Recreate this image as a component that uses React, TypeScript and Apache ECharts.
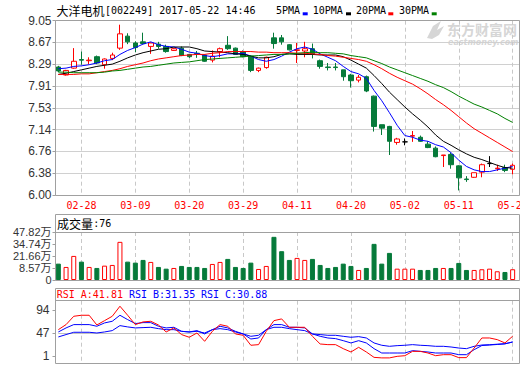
import React, { useEffect, useRef } from "react";
import * as echarts from "echarts";

// ---------- data ----------
const dates = [
  "02-23", "02-24", "02-27", "02-28", "03-01", "03-02", "03-03", "03-06", "03-07", "03-08",
  "03-09", "03-10", "03-13", "03-14", "03-15", "03-16", "03-17", "03-20", "03-21", "03-22",
  "03-23", "03-24", "03-27", "03-28", "03-29", "03-30", "03-31", "04-05", "04-06", "04-07",
  "04-10", "04-11", "04-12", "04-13", "04-14", "04-17", "04-18", "04-19", "04-20", "04-21",
  "04-24", "04-25", "04-26", "04-27", "04-28", "05-02", "05-03", "05-04", "05-05", "05-08",
  "05-09", "05-10", "05-11", "05-12", "05-15", "05-16", "05-17", "05-18", "05-19", "05-22",
];
const opens = [
  8.24, 8.1, 8.22, 8.37, 8.35, 8.42, 8.28, 8.39, 8.57, 8.78,
  8.66, 8.68, 8.6, 8.64, 8.6, 8.53, 8.57, 8.46, 8.48, 8.45,
  8.36, 8.51, 8.62, 8.57, 8.51, 8.43, 8.18, 8.23, 8.75, 8.75,
  8.63, 8.53, 8.52, 8.56, 8.35, 8.24, 8.24, 8.19, 8.1, 8.01,
  8.07, 7.73, 7.23, 7.2, 6.92, 6.93, 7.03, 7.01, 6.89, 6.82,
  6.69, 6.71, 6.51, 6.28, 6.31, 6.4, 6.55, 6.46, 6.48, 6.45,
];
const closes = [
  8.17, 8.18, 8.34, 8.36, 8.36, 8.31, 8.38, 8.45, 8.82, 8.68,
  8.58, 8.65, 8.66, 8.6, 8.51, 8.56, 8.44, 8.42, 8.47, 8.34,
  8.43, 8.56, 8.56, 8.46, 8.42, 8.18, 8.22, 8.41, 8.65, 8.68,
  8.54, 8.54, 8.56, 8.47, 8.25, 8.23, 8.23, 8.07, 8.0, 8.06,
  7.82, 7.2, 7.17, 6.94, 6.98, 6.93, 7.04, 6.94, 6.83, 6.67,
  6.7, 6.53, 6.3, 6.27, 6.39, 6.53, 6.55, 6.47, 6.43, 6.52,
];
const lows = [
  8.15, 8.09, 8.21, 8.28, 8.29, 8.29, 8.21, 8.36, 8.54, 8.64,
  8.5, 8.64, 8.47, 8.56, 8.49, 8.52, 8.43, 8.4, 8.4, 8.33,
  8.32, 8.41, 8.54, 8.45, 8.41, 8.15, 8.15, 8.21, 8.56, 8.63,
  8.53, 8.31, 8.41, 8.39, 8.21, 8.18, 8.18, 8.0, 7.88, 7.97,
  7.8, 7.11, 7.05, 6.7, 6.88, 6.87, 6.93, 6.93, 6.82, 6.66,
  6.49, 6.46, 6.08, 6.23, 6.3, 6.31, 6.49, 6.42, 6.4, 6.36,
];
const highs = [
  8.26, 8.19, 8.57, 8.51, 8.41, 8.44, 8.39, 8.49, 8.98, 8.83,
  8.69, 8.84, 8.67, 8.68, 8.63, 8.57, 8.6, 8.47, 8.52, 8.46,
  8.53, 8.58, 8.78, 8.58, 8.53, 8.44, 8.23, 8.42, 8.84, 8.8,
  8.64, 8.66, 8.68, 8.65, 8.37, 8.31, 8.31, 8.19, 8.12, 8.1,
  8.09, 7.74, 7.23, 7.21, 7.0, 6.99, 7.12, 7.04, 6.94, 6.85,
  6.7, 6.74, 6.52, 6.33, 6.39, 6.55, 6.68, 6.53, 6.53, 6.55,
];
const ma5 = [
  8.21, 8.22, 8.25, 8.26, 8.28, 8.31, 8.35, 8.37, 8.46, 8.53,
  8.58, 8.64, 8.68, 8.63, 8.6, 8.59, 8.55, 8.5, 8.48, 8.44,
  8.42, 8.44, 8.47, 8.47, 8.48, 8.43, 8.37, 8.34, 8.37, 8.43,
  8.5, 8.56, 8.59, 8.55, 8.47, 8.41, 8.35, 8.25, 8.16, 8.12,
  8.04, 7.83, 7.65, 7.44, 7.22, 7.04, 7.01, 6.96, 6.94, 6.88,
  6.84, 6.74, 6.61, 6.5, 6.44, 6.41, 6.41, 6.44, 6.47, 6.5,
];
const ma10 = [
  8.11, 8.13, 8.16, 8.19, 8.22, 8.25, 8.27, 8.29, 8.34, 8.4,
  8.45, 8.49, 8.52, 8.55, 8.56, 8.59, 8.59, 8.59, 8.56, 8.52,
  8.51, 8.5, 8.49, 8.47, 8.46, 8.43, 8.4, 8.4, 8.42, 8.46,
  8.47, 8.46, 8.46, 8.46, 8.45, 8.45, 8.45, 8.42, 8.36, 8.29,
  8.22, 8.09, 7.95, 7.8, 7.67, 7.54, 7.42, 7.31, 7.19, 7.05,
  6.94, 6.87, 6.79, 6.72, 6.66, 6.62, 6.57, 6.52, 6.48, 6.47,
];
const ma20 = [
  8.11, 8.11, 8.11, 8.12, 8.12, 8.14, 8.16, 8.18, 8.21, 8.25,
  8.28, 8.31, 8.35, 8.38, 8.4, 8.42, 8.44, 8.45, 8.46, 8.46,
  8.48, 8.49, 8.51, 8.51, 8.51, 8.51, 8.5, 8.5, 8.49, 8.49,
  8.49, 8.48, 8.48, 8.47, 8.46, 8.44, 8.43, 8.41, 8.39, 8.37,
  8.34, 8.28, 8.21, 8.13, 8.06, 8.0, 7.94, 7.86, 7.77, 7.67,
  7.58, 7.48, 7.37, 7.26, 7.16, 7.08, 7.0, 6.92, 6.84, 6.76,
];
const ma30 = [
  8.15, 8.15, 8.14, 8.14, 8.14, 8.14, 8.15, 8.17, 8.18, 8.2,
  8.22, 8.24, 8.25, 8.27, 8.29, 8.31, 8.32, 8.33, 8.35, 8.37,
  8.38, 8.39, 8.4, 8.41, 8.42, 8.43, 8.44, 8.45, 8.46, 8.46,
  8.47, 8.48, 8.49, 8.5, 8.49, 8.49, 8.48, 8.47, 8.44, 8.42,
  8.4, 8.35, 8.3, 8.24, 8.19, 8.14, 8.09, 8.04, 7.99, 7.93,
  7.88, 7.81, 7.73, 7.66, 7.59, 7.54, 7.48, 7.42, 7.34, 7.27,
];
// volume, in 万
const volumes = [
  16.3, 13, 24, 18.3, 13, 12, 14.3, 15, 38, 18.3,
  17.3, 20, 18, 13, 11.3, 12, 14, 13, 13, 12,
  16, 18, 21, 13, 12, 17.3, 11, 14, 43, 28.7,
  20, 22, 20, 21, 15, 12, 13, 16.3, 14, 10,
  12, 36, 16.3, 27, 11.3, 11.3, 11.3, 10, 10, 12,
  12, 12, 17, 10, 10, 10.7, 11.3, 8.7, 8, 10.7,
];
const rsiA = [
  54.1, 63.5, 79.0, 80.9, 80.9, 62.8, 70.9, 79.0, 97.7, 80.9,
  63.5, 68.5, 69.7, 62.8, 49.8, 57.3, 44.9, 39.9, 47.9, 32.4,
  51.0, 63.5, 60.4, 46.1, 43.6, 25.0, 26.2, 51.0, 70.9, 74.1,
  58.5, 58.5, 58.5, 41.7, 27.4, 26.2, 26.2, 18.7, 12.5, 21.2,
  12.5, 2.5, 1.5, 1.5, 4.4, 5.6, 13.7, 13.7, 10.6, 5.6,
  7.5, 7.5, 2.0, 2.0, 19.9, 38.6, 38.6, 35.5, 29.3, 41.81,
];
const rsiB = [
  49.8, 57.3, 63.5, 63.5, 63.5, 60.4, 66.6, 69.7, 80.9, 72.8,
  65.4, 67.2, 67.2, 60.4, 57.3, 58.5, 51.0, 49.8, 52.3, 46.1,
  54.1, 60.4, 57.3, 51.0, 46.1, 36.7, 38.6, 54.1, 63.5, 63.5,
  58.5, 58.5, 57.3, 46.1, 41.7, 38.6, 37.4, 33.6, 29.3, 33.6,
  29.3, 18.7, 10.6, 10.6, 10.6, 10.6, 15.0, 13.7, 12.5, 10.6,
  10.6, 10.6, 7.5, 7.5, 16.8, 24.5, 25.5, 26.5, 27.5, 31.35,
];
const rsiC = [
  40.5, 44.9, 49.2, 49.2, 49.2, 47.9, 49.8, 52.3, 61.6, 59.2,
  57.3, 57.9, 58.5, 56.0, 54.1, 54.1, 51.0, 49.8, 51.0, 47.9,
  54.1, 56.0, 54.1, 49.8, 46.1, 41.7, 43.6, 54.1, 58.5, 58.5,
  56.0, 54.1, 52.3, 46.1, 44.9, 43.6, 43.6, 41.7, 39.9, 41.1,
  38.6, 29.3, 25.0, 23.1, 24.3, 25.0, 26.2, 25.0, 24.3, 23.1,
  23.1, 21.8, 19.9, 18.7, 23.1, 25.5, 26.0, 27.0, 28.0, 30.88,
];
const priceTickLabels = ["6.00", "6.38", "6.76", "7.14", "7.53", "7.91", "8.29", "8.67", "9.05"];
const volTickLabels = ["0", "8.57万", "21.66万", "34.74万", "47.82万"];
const rsiTickLabels = ["1", "47", "94"];
const maNames = ["5PMA", "10PMA", "20PMA", "30PMA"];

// ---------- styles ----------
const GREEN = "#067a3a";
const RED = "#ff0000";
const BLUE = "#0000ff";
const MA_COLORS = [BLUE, "#000000", RED, "#008000"];
const MONO = "'DejaVu Sans Mono', 'Noto Sans CJK SC', monospace";
const CJK = "'Noto Sans CJK SC', sans-serif";
const AXF = "'Liberation Sans', 'Noto Sans CJK SC', sans-serif";
const FRAME = "#a0a0a0";
const GRIDC = "#d0d0d0";
const WM = "#d6d6d6";

const DL = 58.35; // data grid left
const DW = 454.3; // data grid width
const FL = 55.5; // frame left
const FR = 519.5; // frame right

export default function App() {
  const ref = useRef<HTMLDivElement>(null);

  useEffect(() => {
    const chart = echarts.init(ref.current!, null, { renderer: "svg" });

    const candleData = dates.map((_, i) => {
      const item: any = { value: [opens[i], closes[i], lows[i], highs[i]] };
      if (opens[i] === closes[i]) {
        item.itemStyle = {
          color: "#000", color0: "#000", borderColor: "#000", borderColor0: "#000", borderColorDoji: "#000",
        };
      }
      return item;
    });
    const volData = volumes.map((v, i) => {
      const up = closes[i] >= opens[i];
      return {
        value: v,
        itemStyle: up
          ? { color: "#ffffff", borderColor: RED, borderWidth: 1 }
          : { color: GREEN, borderColor: GREEN, borderWidth: 1 },
      };
    });

    const showIdx = (i: number) => i % 7 === 3;
    const catAxis = (gi: number, showLabel: boolean) => ({
      type: "category",
      gridIndex: gi,
      data: dates,
      boundaryGap: false,
      axisLine: { show: false },
      axisTick: { show: false },
      axisLabel: showLabel
        ? { show: true, interval: (i: number) => showIdx(i), color: RED, fontFamily: MONO, fontSize: 10, margin: 5 }
        : { show: false },
      splitLine: { show: true, interval: (i: number) => showIdx(i), lineStyle: { color: "#c8c8c8", type: [4, 3], width: 1 } },
    });
    const hiddenX = (gi: number) => ({ type: "value", gridIndex: gi, min: 0, max: 1, show: false });

    const byIndex = (labels: string[]) => (_v: number, idx: number) => labels[idx] ?? "";

    const txt = (x: number, y: number, text: string, font: string, size: number, fill: string, extra: any = {}) => ({
      type: "text",
      x,
      y,
      silent: true,
      z: 20,
      style: { text, fill, fontFamily: font, fontSize: size, verticalAlign: "middle", align: "left", ...extra },
    });

    const legendX = [276, 312.7, 356, 399];
    const legendBoxX = [302.7, 346, 388.3, 431.7];

    const graphic: any[] = [
      // frames
      { type: "rect", z: 30, silent: true, shape: { x: FL, y: 20.5, width: FR - FL, height: 175 }, style: { fill: "none", stroke: FRAME, lineWidth: 1 } },
      { type: "rect", z: 30, silent: true, shape: { x: FL, y: 214.5, width: FR - FL, height: 66 }, style: { fill: "none", stroke: FRAME, lineWidth: 1 } },
      { type: "line", z: 30, silent: true, shape: { x1: FL, y1: 232.5, x2: FR, y2: 232.5 }, style: { stroke: FRAME, lineWidth: 1 } },
      { type: "rect", z: 30, silent: true, shape: { x: FL, y: 288.5, width: FR - FL, height: 75 }, style: { fill: "none", stroke: FRAME, lineWidth: 1 } },
      { type: "line", z: 30, silent: true, shape: { x1: FL, y1: 300.5, x2: FR, y2: 300.5 }, style: { stroke: FRAME, lineWidth: 1 } },
      // title
      txt(56.5, 10, "大洋电机", CJK, 12, "#000"),
      txt(105, 10, "[002249] 2017-05-22 14:46", MONO, 10, "#000"),
      // watermark
      {
        type: "polygon", z: 0, silent: true,
        shape: { points: [[427, 38], [433, 26], [441, 21], [437, 30], [444, 26], [439, 35], [432, 39]] },
        style: { fill: WM },
      },
      { type: "text", x: 447, y: 28.5, silent: true, z: 0, style: { text: "东方财富网", fill: WM, fontFamily: CJK, fontSize: 14, lineHeight: 14, fontWeight: "bold", verticalAlign: "middle" } },
      { type: "text", x: 448, y: 42, silent: true, z: 0, style: { text: "eastmoney.com", fill: WM, fontFamily: "'DejaVu Sans', sans-serif", fontSize: 8, lineHeight: 8, fontWeight: "bold", fontStyle: "italic", verticalAlign: "middle" } },
      // volume header
      txt(57, 223.5, "成交量", CJK, 12, "#000"),
      txt(93.3, 223.5, ":76", MONO, 10, "#000"),
      // RSI header
      txt(56.7, 294.5, `RSI_A:${rsiA[rsiA.length - 1].toFixed(2)}`, MONO, 10, RED),
      txt(129, 294.5, `RSI_B:${rsiB[rsiB.length - 1].toFixed(2)}`, MONO, 10, BLUE),
      txt(201, 294.5, `RSI_C:${rsiC[rsiC.length - 1].toFixed(2)}`, MONO, 10, BLUE),
    ];
    maNames.forEach((name, k) => {
      graphic.push(txt(legendX[k], 10, name, MONO, 10, "#000"));
      graphic.push({ type: "rect", z: 20, silent: true, shape: { x: legendBoxX[k], y: 12.3, width: 5, height: 3 }, style: { fill: MA_COLORS[k] } });
    });

    const maData = [ma5, ma10, ma20, ma30];
    const g = (left: number, top: number, width: number, height: number) => ({
      left, top, width, height, containLabel: false, outerBoundsMode: "none",
    });

    chart.setOption({
      animation: false,
      backgroundColor: "#ffffff",
      grid: [
        g(DL, 20.7, DW, 174.3),
        g(DL, 232, DW, 48),
        g(DL, 300.7, DW, 62.3),
        g(FL, 20.7, FR - FL, 174.3),
        g(FL, 232, FR - FL, 48),
        g(FL, 310, FR - FL, 46),
      ],
      xAxis: [catAxis(0, true), catAxis(1, false), catAxis(2, false), hiddenX(3), hiddenX(4), hiddenX(5)],
      yAxis: [
        { type: "value", gridIndex: 0, min: 6, max: 9.05, show: false, splitLine: { show: false } },
        { type: "value", gridIndex: 1, min: 0, max: 47.82, show: false, splitLine: { show: false } },
        { type: "value", gridIndex: 2, min: -8, max: 108, show: false, splitLine: { show: false } },
        {
          type: "value", gridIndex: 3, min: 6, max: 9.05, interval: 0.38125,
          axisLine: { show: false },
          axisTick: { show: true, length: 3, lineStyle: { color: FRAME } },
          axisLabel: { margin: 4, color: "#333", fontFamily: AXF, fontSize: 12, formatter: byIndex(priceTickLabels) },
          splitLine: { show: true, lineStyle: { color: GRIDC, width: 1 } },
        },
        {
          type: "value", gridIndex: 4, min: -4.5, max: 47.82, interval: 13.08,
          axisLine: { show: false },
          axisTick: { show: true, length: 3, lineStyle: { color: FRAME } },
          axisLabel: { margin: 4, color: "#333", fontFamily: AXF, fontSize: 11, lineHeight: 11, formatter: byIndex(volTickLabels) },
          splitLine: { show: false },
        },
        {
          type: "value", gridIndex: 5, min: 1, max: 94, interval: 46.5,
          axisLine: { show: false },
          axisTick: { show: true, length: 3, lineStyle: { color: FRAME } },
          axisLabel: { margin: 6, color: "#333", fontFamily: AXF, fontSize: 12, formatter: byIndex(rsiTickLabels) },
          splitLine: { show: false },
        },
      ],
      series: [
        {
          type: "candlestick",
          xAxisIndex: 0,
          yAxisIndex: 0,
          data: candleData,
          barWidth: 5,
          clip: false,
          z: 2,
          itemStyle: { color: "#ffffff", color0: GREEN, borderColor: RED, borderColor0: GREEN, borderWidth: 1 },
        },
        ...maData.map((d, k) => ({
          type: "line",
          name: maNames[k],
          xAxisIndex: 0,
          yAxisIndex: 0,
          data: d,
          symbol: "none",
          z: 3,
          lineStyle: { width: 1, color: MA_COLORS[k] },
        })),
        {
          type: "bar",
          xAxisIndex: 1,
          yAxisIndex: 1,
          data: volData,
          barWidth: 5,
          clip: false,
        },
        {
          type: "line",
          xAxisIndex: 2,
          yAxisIndex: 2,
          data: rsiC,
          symbol: "none",
          z: 3,
          lineStyle: { width: 1, color: BLUE },
          markLine: {
            silent: true,
            symbol: "none",
            label: { show: false },
            lineStyle: { color: "#c0c0c0", type: "solid", width: 1 },
            data: [{ yAxis: 47 }],
            z: 1,
          },
        },
        { type: "line", xAxisIndex: 2, yAxisIndex: 2, data: rsiB, symbol: "none", z: 3, lineStyle: { width: 1, color: BLUE } },
        { type: "line", xAxisIndex: 2, yAxisIndex: 2, data: rsiA, symbol: "none", z: 4, lineStyle: { width: 1, color: RED } },
      ],
      graphic,
    });

    return () => chart.dispose();
  }, []);

  return <div ref={ref} style={{ position: "absolute", left: 0, top: 0, width: 520, height: 365 }} />;
}
